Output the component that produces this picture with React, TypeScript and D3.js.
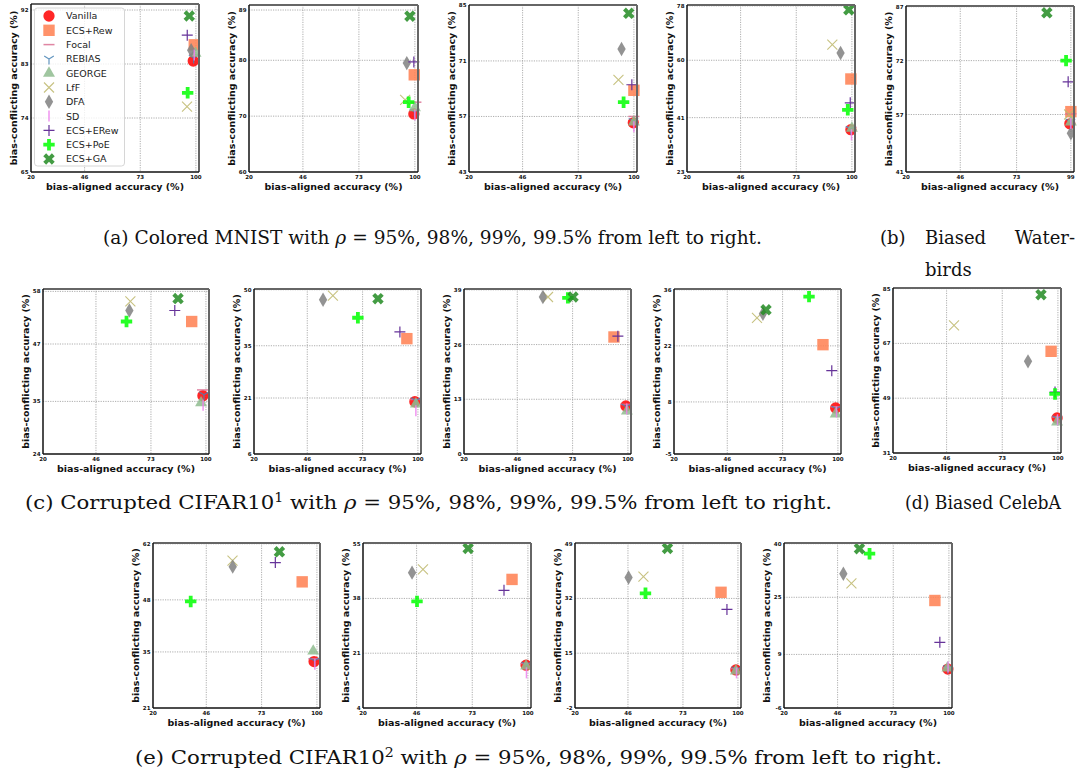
import React from 'react';
import * as d3 from 'd3';

// legend order = draw order
const methods = ['Vanilla', 'ECS+Rew', 'Focal', 'REBIAS', 'GEORGE', 'LfF', 'DFA', 'SD', 'ECS+ERew', 'ECS+PoE', 'ECS+GA'];
const colors = ['#ff0000', '#ff7f50', '#db7093', '#4682b4', '#8fbc8f', '#bdb76b', '#808080', '#ee82ee', '#663399', '#00ff00', '#228b22'];
const markers = ['circle', 'square', 'hline', 'tri_down', 'triangle', 'x', 'diamond', 'vline', 'plus', 'P', 'X'];

const xTicks100 = [20, 46, 73, 100];
const xTicks99 = [20, 46, 73, 99];

const yTicksMnist = [[65, 74, 83, 92], [60, 70, 80, 89], [43, 57, 71, 85], [23, 41, 60, 78]];
const yTicksWaterbirds = [41, 57, 72, 87];
const yTicksCifar1 = [[24, 35, 47, 58], [6, 21, 35, 50], [0, 13, 26, 39], [-5, 8, 22, 36]];
const yTicksCelebA = [31, 49, 67, 85];
const yTicksCifar2 = [[21, 35, 48, 62], [4, 21, 38, 55], [-2, 15, 32, 49], [-6, 9, 25, 40]];

// [bias-aligned, bias-conflicting] per method, in legend order
const mnist95 = [[98.7, 83.5], [99.2, 86.2], [99.3, 84.6], [98.9, 84.0], [99.8, 84.8], [95.7, 75.9], [97.7, 85.3], [99.2, 84.5], [95.8, 87.8], [96.0, 78.2], [96.8, 91.0]];
const mnist98 = [[99.5, 70.4], [99.7, 77.4], [100.5, 72.5], [99.8, 70.8], [100, 71.5], [95.3, 72.9], [96.1, 79.5], [100, 70.2], [99.5, 79.7], [97.0, 72.5], [97.6, 87.9]];
const mnist99 = [[99.7, 55.4], [100, 63.6], [100, 57], [99.8, 55.8], [100, 55.6], [92.5, 66.2], [94, 74], [100, 54.4], [99, 65], [95, 60.6], [97.5, 83]];
const mnist995 = [[99.5, 37], [99.5, 53.8], [99.6, 37.8], [99.4, 37.2], [100, 37.5], [90.5, 65.2], [94.5, 62.4], [99.8, 35.3], [99.2, 45.9], [98, 43.6], [98.5, 76.7]];
const waterbirds = [[98.5, 54.4], [99, 57.8], [99, 57.2], [98.8, 55], [99, 54.9], [98.2, 57], [99, 51.8], [99, 54.5], [97.7, 66.1], [96.7, 72], [87.5, 85.3]];
const cifar1_95 = [[98.5, 36.2], [93, 51.7], [98.3, 37.4], [99, 36.4], [97.6, 34.7], [62.9, 55.9], [62.4, 54], [98.6, 34.2], [84.7, 54], [61, 51.7], [86.3, 56.5]];
const cifar1_98 = [[98.5, 20], [94.6, 36.9], [98.7, 20.6], [99, 20.3], [99, 19.4], [58.5, 48.4], [53.7, 47.3], [99, 17.6], [91.2, 38.7], [70.7, 42.5], [80.5, 47.6]];
const cifar1_99 = [[99, 11.4], [93.2, 27.8], [99, 11.8], [99.2, 11.2], [99.5, 10.2], [61, 37.3], [58.5, 37.3], [99.4, 10.7], [95.1, 28], [70.7, 37.1], [73.2, 37.3]];
const cifar1_995 = [[98.9, 6.5], [92.7, 22.3], [99, 6.8], [99.2, 6.3], [98.9, 5], [60.5, 29], [63.4, 30], [99.3, 5.5], [97, 15.8], [85.9, 34.3], [64.9, 31]];
const celebA = [[99.6, 42.5], [96.7, 64.4], [99.5, 42.8], [99.7, 42.3], [99.6, 41.2], [49.6, 72.9], [85.5, 61.1], [99.8, 41.9], [98.6, 51], [98.6, 50.4], [91.8, 83]];
const cifar2_95 = [[98.6, 32.6], [92.8, 52.5], [98.5, 33.3], [98.8, 32.8], [98.2, 35.2], [58.8, 57.8], [58.9, 56.3], [99, 31.9], [79.7, 57.3], [38.4, 47.6], [81.7, 60]];
const cifar2_98 = [[99.1, 17.3], [92.3, 43.9], [99, 17.8], [99.2, 17.4], [99.1, 17], [49.1, 47], [43.8, 46], [99.3, 14.9], [88.4, 40.5], [46.2, 37.1], [71, 53.5]];
const cifar2_99 = [[99, 9.8], [91.7, 33.9], [99, 10.2], [99.2, 9.9], [99, 9.5], [53.6, 38.8], [46.3, 38.5], [99.3, 8.9], [94.6, 28.6], [54.6, 33.6], [65.4, 47.5]];
const cifar2_995 = [[99.5, 4.9], [93.2, 24.1], [99.4, 5.3], [99.5, 5.1], [99.3, 5.2], [52.7, 28.9], [48.8, 31.6], [99.6, 5.5], [95.6, 12.4], [61.5, 37.2], [56.6, 38.6]];

// plot rectangles [left, top, right, bottom] in px
const panels = [
  { r: [31, 4, 199, 172], xt: xTicks100, yt: yTicksMnist[0], yPad: 1, pts: mnist95, legend: true },
  { r: [249, 5, 418, 172], xt: xTicks100, yt: yTicksMnist[1], yPad: 0.9, pts: mnist98 },
  { r: [469, 5, 637, 172], xt: xTicks100, yt: yTicksMnist[2], yPad: 0.1, pts: mnist99 },
  { r: [687, 5, 855, 172], xt: xTicks100, yt: yTicksMnist[3], yPad: 0.3, pts: mnist995 },
  { r: [906, 6, 1074, 172], xt: xTicks99, yt: yTicksWaterbirds, yPad: 0.2, pts: waterbirds },
  { r: [43, 289, 209, 454], xt: xTicks100, yt: yTicksCifar1[0], yPad: 0.5, pts: cifar1_95 },
  { r: [254, 289, 421, 454], xt: xTicks100, yt: yTicksCifar1[1], yPad: 0.2, pts: cifar1_98 },
  { r: [464, 289, 631, 454], xt: xTicks100, yt: yTicksCifar1[2], yPad: 0.2, pts: cifar1_99 },
  { r: [674, 289, 841, 454], xt: xTicks100, yt: yTicksCifar1[3], yPad: 0.2, pts: cifar1_995 },
  { r: [893, 288, 1061, 453], xt: xTicks100, yt: yTicksCelebA, yPad: 0.2, pts: celebA },
  { r: [153, 543, 320, 708], xt: xTicks100, yt: yTicksCifar2[0], yPad: 0.2, pts: cifar2_95 },
  { r: [363, 543, 531, 708], xt: xTicks100, yt: yTicksCifar2[1], yPad: 0.2, pts: cifar2_98 },
  { r: [575, 543, 741, 708], xt: xTicks100, yt: yTicksCifar2[2], yPad: 0.2, pts: cifar2_99 },
  { r: [784, 543, 952, 708], xt: xTicks100, yt: yTicksCifar2[3], yPad: 0.2, pts: cifar2_995 },
];

const sym = (t: d3.SymbolType, size: number) => d3.symbol(t, size)() as string;

function Marker({ type, color, x, y }: { type: string; color: string; x: number; y: number }) {
  const tr = `translate(${x},${y})`;
  const op = 0.85;
  switch (type) {
    case 'circle':
      return <path transform={tr} d={sym(d3.symbolCircle, 100)} fill={color} opacity={op} />;
    case 'square':
      return <path transform={tr} d={sym(d3.symbolSquare, 130)} fill={color} opacity={op} />;
    case 'triangle':
      return <path transform={tr} d={sym(d3.symbolTriangle, 62)} fill={color} opacity={op} />;
    case 'diamond':
      return <path transform={tr} d={sym(d3.symbolDiamond, 60)} fill={color} opacity={op} />;
    case 'P':
      return <path transform={tr} d={sym(d3.symbolCross, 72)} fill={color} opacity={op} />;
    case 'X':
      return <path transform={`${tr} rotate(45)`} d={sym(d3.symbolCross, 82)} fill={color} opacity={op} />;
    case 'hline':
      return <line transform={tr} x1={-5.5} x2={5.5} y1={0} y2={0} stroke={color} strokeWidth={1.5} opacity={op} />;
    case 'vline':
      return <line transform={tr} x1={0} x2={0} y1={-5.5} y2={5.5} stroke={color} strokeWidth={1.5} opacity={op} />;
    case 'plus':
      return <path transform={tr} d="M-5.5,0H5.5M0,-5.5V5.5" stroke={color} strokeWidth={1.2} fill="none" />;
    case 'x':
      return <path transform={tr} d="M-5,-5L5,5M-5,5L5,-5" stroke={color} strokeWidth={1.1} fill="none" opacity={op} />;
    case 'tri_down':
      return <path transform={tr} d="M0,0V5.5M0,0L-4.8,-2.8M0,0L4.8,-2.8" stroke={color} strokeWidth={1.2} fill="none" opacity={op} />;
    default:
      return null;
  }
}

const tickFont = { fontFamily: 'DejaVu Sans', fontWeight: 'bold', fontSize: 5.5, fill: '#111' } as const;
const labelFont = { fontFamily: 'DejaVu Sans', fontWeight: 'bold', fontSize: 9.5, fill: '#111' } as const;

function Panel({ p }: { p: (typeof panels)[number] }) {
  const [l, t, r, b] = p.r;
  const xs = d3.scaleLinear().domain([p.xt[0], p.xt[p.xt.length - 1] + 1.5]).range([l, r]);
  const ys = d3.scaleLinear().domain([p.yt[0], p.yt[p.yt.length - 1] + p.yPad]).range([b, t]);
  return (
    <g>
      {p.xt.slice(1).map((v) => (
        <line key={'gx' + v} x1={xs(v)} x2={xs(v)} y1={t} y2={b} stroke="#999" strokeWidth={0.8} strokeDasharray="1.2,1.2" />
      ))}
      {p.yt.slice(1).map((v) => (
        <line key={'gy' + v} x1={l} x2={r} y1={ys(v)} y2={ys(v)} stroke="#999" strokeWidth={0.8} strokeDasharray="1.2,1.2" />
      ))}
      {p.pts.map((d, i) => (
        <Marker key={i} type={markers[i]} color={colors[i]} x={xs(d[0])} y={ys(d[1])} />
      ))}
      {p.legend && (
        <g>
          <rect x={34.5} y={8} width={90} height={158} rx={3} fill="#fff" fillOpacity={0.8} stroke="#ccc" strokeWidth={0.8} />
          {methods.map((m, i) => (
            <g key={m}>
              <Marker type={markers[i]} color={colors[i]} x={49} y={16 + i * 14.3} />
              <text x={66} y={16 + i * 14.3 + 3.4} fontFamily="DejaVu Sans" fontSize={9.5} fill="#222">{m}</text>
            </g>
          ))}
        </g>
      )}
      <line x1={l} x2={r} y1={t} y2={t} stroke="#666" strokeWidth={2} />
      <line x1={r} x2={r} y1={t} y2={b} stroke="#666" strokeWidth={2} />
      <line x1={l} x2={l} y1={t} y2={b} stroke="#111" strokeWidth={1.5} />
      <line x1={l} x2={r} y1={b} y2={b} stroke="#111" strokeWidth={1.5} />
      {p.xt.map((v) => (
        <text key={'tx' + v} x={xs(v)} y={b + 6.5} textAnchor="middle" {...tickFont}>{v}</text>
      ))}
      {p.yt.map((v) => (
        <text key={'ty' + v} x={l - 2.5} y={ys(v) + 2} textAnchor="end" {...tickFont}>{v}</text>
      ))}
      <text x={(l + r) / 2} y={b + 18} textAnchor="middle" {...labelFont}>bias-aligned accuracy (%)</text>
      <text transform={`translate(${l - 14},${(t + b) / 2}) rotate(-90)`} textAnchor="middle" {...labelFont}>bias-conflicting accuracy (%)</text>
    </g>
  );
}

const capFont = { fontFamily: 'DejaVu Serif', fontSize: 18, fill: '#111' } as const;

export default function App() {
  return (
    <svg width={1085} height={771} style={{ position: 'absolute', left: 0, top: 0, background: '#fff' }}>
      {panels.map((p, i) => (
        <Panel key={i} p={p} />
      ))}
      <text x={103} y={244} textLength={659} lengthAdjust="spacingAndGlyphs" {...capFont}>
        (a) Colored MNIST with <tspan fontStyle="italic">ρ</tspan> = 95%, 98%, 99%, 99.5% from left to right.
      </text>
      <text x={880} y={244} {...capFont}>(b)</text>
      <text x={925} y={244} {...capFont}>Biased</text>
      <text x={1075} y={244} textAnchor="end" {...capFont}>Water-</text>
      <text x={925} y={276} {...capFont}>birds</text>
      <text x={25} y={509} textLength={807} lengthAdjust="spacingAndGlyphs" {...capFont}>
        (c) Corrupted CIFAR10<tspan dy={-7} fontSize={12}>1</tspan><tspan dy={7}> with </tspan><tspan fontStyle="italic">ρ</tspan> = 95%, 98%, 99%, 99.5% from left to right.
      </text>
      <text x={905} y={509} textLength={156} lengthAdjust="spacingAndGlyphs" {...capFont}>(d) Biased CelebA</text>
      <text x={135} y={764} textLength={807} lengthAdjust="spacingAndGlyphs" {...capFont}>
        (e) Corrupted CIFAR10<tspan dy={-7} fontSize={12}>2</tspan><tspan dy={7}> with </tspan><tspan fontStyle="italic">ρ</tspan> = 95%, 98%, 99%, 99.5% from left to right.
      </text>
    </svg>
  );
}
